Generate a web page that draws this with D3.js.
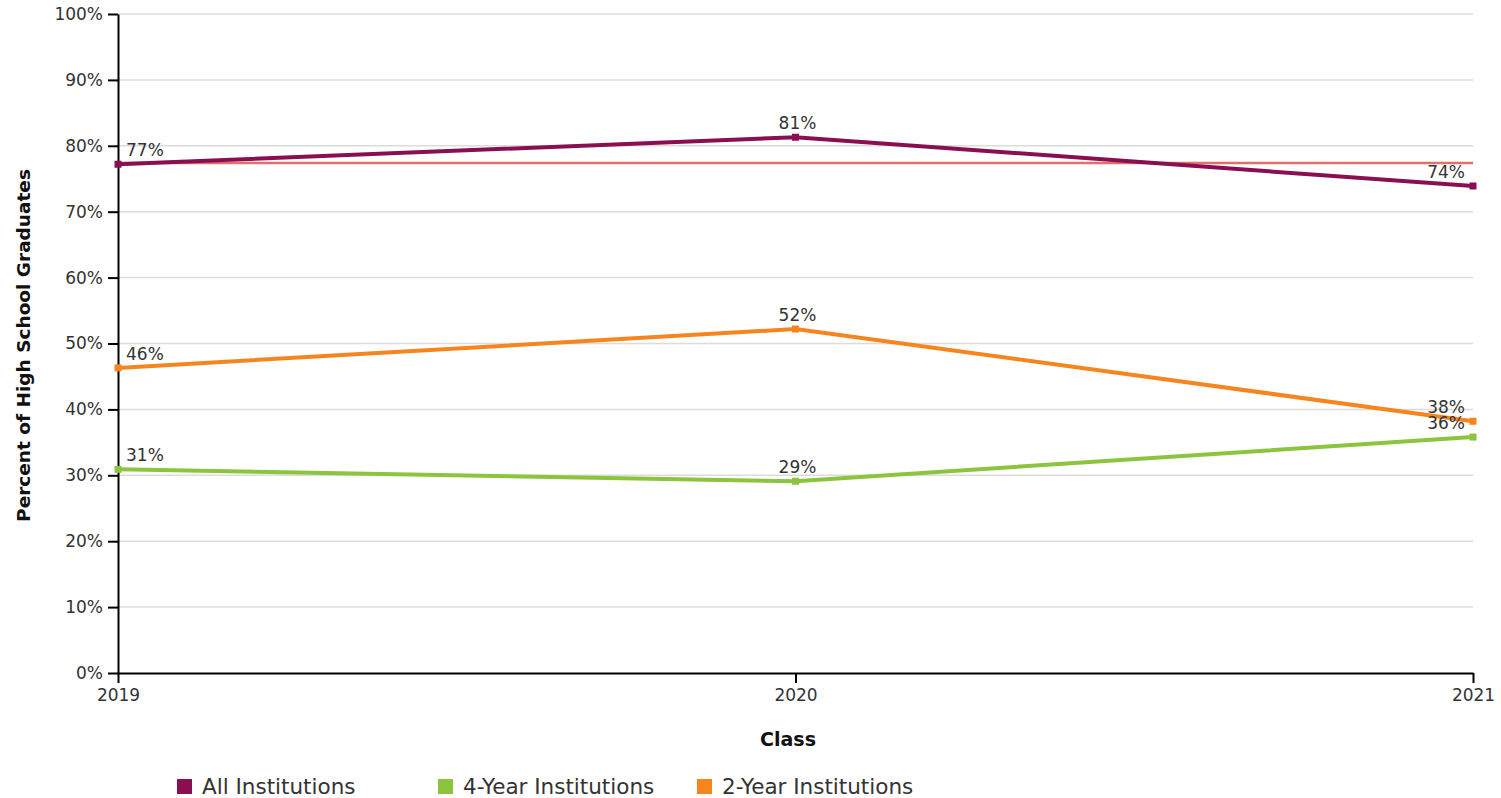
<!DOCTYPE html>
<html>
<head>
<meta charset="utf-8">
<script src="https://cdn.jsdelivr.net/npm/d3@7"></script>
<style>
  body { margin: 0; background: #fff; }
  svg { font-family: "DejaVu Sans", sans-serif; }
  .grid line { stroke: #dcdcdc; stroke-width: 1.5; }
</style>
</head>
<body>
<svg id="chart" width="1501" height="798"></svg>
<script>
const years = ["2019", "2020", "2021"];
const allInst = [77.2, 81.3, 73.9];
const fourYear = [30.9, 29.1, 35.8];
const twoYear = [46.3, 52.2, 38.2];
const benchmark = 77.4;
const yTicks = [0, 10, 20, 30, 40, 50, 60, 70, 80, 90, 100];

const series = [
  { name: "All Institutions", values: allInst, color: "#8a0f52", labels: ["77%", "81%", "74%"] },
  { name: "4-Year Institutions", values: fourYear, color: "#8cc43f", labels: ["31%", "29%", "36%"] },
  { name: "2-Year Institutions", values: twoYear, color: "#f5861f", labels: ["46%", "52%", "38%"] }
];

const svg = d3.select("#chart");
const plotL = 118, plotR = 1473, plotT = 14, plotB = 673;

const x = d3.scalePoint().domain(years).range([plotL, plotR]);
const y = d3.scaleLinear().domain([0, 100]).range([plotB, plotT]);

// grid
svg.append("g").attr("class", "grid")
  .selectAll("line").data(yTicks.filter(d => d > 0)).enter().append("line")
  .attr("x1", plotL).attr("x2", plotR)
  .attr("y1", d => y(d)).attr("y2", d => y(d));

// axes
svg.append("g").attr("class", "axis")
  .attr("transform", `translate(${plotL},0)`)
  .call(d3.axisLeft(y).tickValues(yTicks).tickFormat(d => d + "%").tickSize(10).tickPadding(5).tickSizeOuter(0));
svg.append("g").attr("class", "axis")
  .attr("transform", `translate(0,${plotB})`)
  .call(d3.axisBottom(x).tickSize(10).tickPadding(6).tickSizeOuter(0));
svg.selectAll(".axis").attr("font-family", null).attr("font-size", 17);
svg.selectAll(".axis text").attr("fill", "#333");
svg.selectAll(".axis path, .axis line").attr("stroke", "#000").attr("stroke-width", 2);

// benchmark line
svg.append("line")
  .attr("x1", plotL).attr("x2", plotR)
  .attr("y1", y(benchmark)).attr("y2", y(benchmark))
  .attr("stroke", "#e0706a").attr("stroke-width", 2.5);

const line = d3.line().x((d, i) => x(years[i])).y(d => y(d));

series.forEach(s => {
  svg.append("path").datum(s.values)
    .attr("d", line).attr("fill", "none")
    .attr("stroke", s.color).attr("stroke-width", 4);
  svg.selectAll(null).data(s.values).enter().append("rect")
    .attr("x", (d, i) => x(years[i]) - 3.5).attr("y", d => y(d) - 3.5)
    .attr("width", 7).attr("height", 7).attr("fill", s.color);
});

// value labels
series.forEach(s => {
  svg.selectAll(null).data(s.values).enter().append("text")
    .attr("x", (d, i) => i === 0 ? x(years[i]) + 8 : i === 1 ? x(years[i]) + 2 : x(years[i]) - 8)
    .attr("y", d => y(d) - 8)
    .attr("text-anchor", (d, i) => i === 0 ? "start" : i === 1 ? "middle" : "end")
    .attr("font-size", 17).attr("fill", "#333")
    .text((d, i) => s.labels[i]);
});

// axis titles
svg.append("text")
  .attr("transform", `translate(30,${(plotT + plotB) / 2 + 2}) rotate(-90)`)
  .attr("text-anchor", "middle").attr("font-size", 18.5).attr("font-weight", "bold").attr("fill", "#111")
  .text("Percent of High School Graduates");
svg.append("text")
  .attr("x", 788).attr("y", 746)
  .attr("text-anchor", "middle").attr("font-size", 19).attr("font-weight", "bold").attr("fill", "#111")
  .text("Class");

// legend
const legendX = [177, 438, 697];
const legend = svg.selectAll(".legend").data(series).enter().append("g")
  .attr("transform", (d, i) => `translate(${legendX[i]},779)`);
legend.append("rect").attr("width", 15).attr("height", 15).attr("fill", d => d.color);
legend.append("text").attr("x", 25).attr("y", 15)
  .attr("font-size", 21.5).attr("fill", "#333").text(d => d.name);
</script>
</body>
</html>
